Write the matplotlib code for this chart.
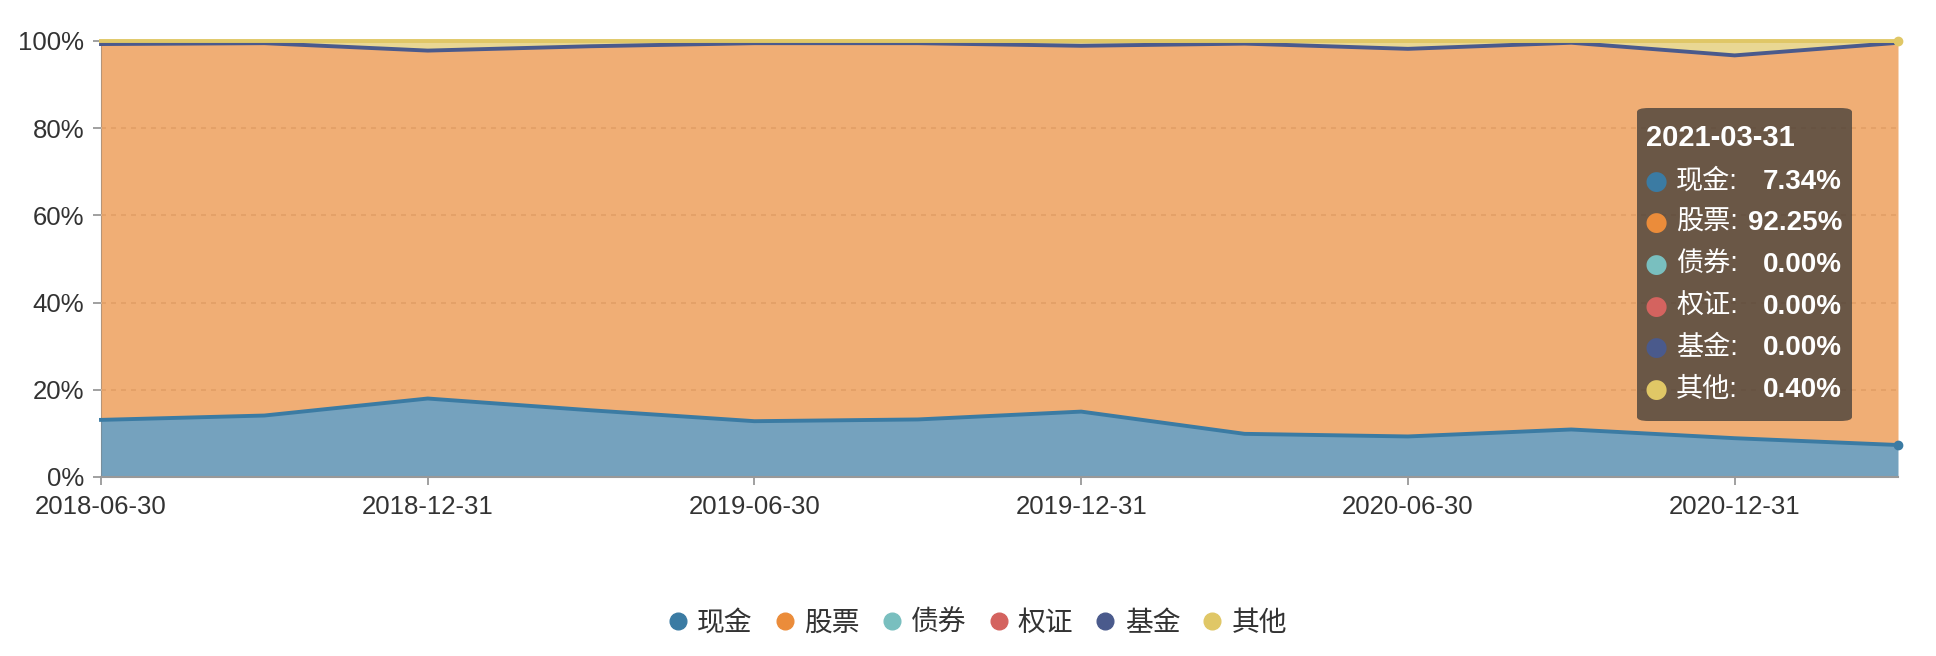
import matplotlib
matplotlib.use("Agg")
import matplotlib.pyplot as plt
from matplotlib.lines import Line2D
from matplotlib.patches import FancyBboxPatch
import numpy as np

plt.rcParams['font.family'] = ['Liberation Sans', 'Noto Sans CJK SC', 'DejaVu Sans']

dates = ['2018-06-30', '2018-09-30', '2018-12-31', '2019-03-31', '2019-06-30', '2019-09-30',
         '2019-12-31', '2020-03-31', '2020-06-30', '2020-09-30', '2020-12-31', '2021-03-31']
names = ['现金', '股票', '债券', '权证', '基金', '其他']
cash = [13.1, 14.1, 18.0, 15.3, 12.8, 13.2, 15.0, 9.9, 9.3, 10.9, 8.9, 7.34]
stock = [86.2, 85.4, 79.8, 83.5, 86.7, 86.3, 83.9, 89.5, 88.9, 88.7, 87.8, 92.25]
bond = [0.0] * 12
warrant = [0.0] * 12
fund = [0.0] * 12
other = [0.7, 0.5, 2.2, 1.2, 0.5, 0.5, 1.1, 0.6, 1.8, 0.4, 3.3, 0.40]
colors = ['#3b7ba3', '#eb8c3a', '#79bfbf', '#d4635f', '#4a5a8c', '#e0c766']

series = [cash, stock, bond, warrant, fund, other]

W, H = 1936, 656
fig = plt.figure(figsize=(W / 100, H / 100), dpi=100)
ax = fig.add_axes([101 / W, 1 - 477 / H, (1898 - 101) / W, (477 - 41) / H])

x = np.arange(len(dates))
base = np.zeros(len(dates))
for i, (vals, c) in enumerate(zip(series, colors)):
    top = base + np.array(vals)
    ax.fill_between(x, base, top, color=c, alpha=0.7, lw=0, zorder=1 + i * 0.1)
    base = top
# lines on top of fills
base = np.zeros(len(dates))
for i, (vals, c) in enumerate(zip(series, colors)):
    top = base + np.array(vals)
    if i in (0, 4, 5):
        ax.plot(x, top, color=c, lw=2.8, zorder=3 + i * 0.1, solid_joinstyle='round',
                clip_on=False)
    base = top

# hover dots at last point
ax.plot(x[-1], cash[-1], 'o', color=colors[0], ms=6, zorder=5, clip_on=False)
ax.plot(x[-1], 100, 'o', color=colors[5], ms=6, zorder=5, clip_on=False)

ax.set_xlim(0, len(dates) - 1)
ax.set_ylim(0, 100)
ax.set_xticks(x[::2])
ax.set_xticklabels(dates[::2])
ax.set_yticks([0, 20, 40, 60, 80, 100])
ax.set_yticklabels(['0%', '20%', '40%', '60%', '80%', '100%'])
ax.tick_params(axis='both', colors='#999999', labelcolor='#333333', labelsize=18.5,
               length=6, width=1.3)
ax.tick_params(axis='x', pad=7)
ax.tick_params(axis='y', pad=6)

ax.set_axisbelow(True)
ax.yaxis.grid(True, color='#cccccc', ls=(0, (3, 3)), lw=1.2, zorder=0)
for s in ['top', 'right']:
    ax.spines[s].set_visible(False)
ax.spines['left'].set_color('#999999')
ax.spines['left'].set_zorder(0.5)
ax.spines['bottom'].set_color('#999999')
ax.spines['bottom'].set_linewidth(1.5)
ax.spines['bottom'].set_zorder(6)

# legend
handles = [Line2D([], [], ls='none', marker='o', ms=12, color=c) for c in colors]
fig.legend(handles, names, loc='center', bbox_to_anchor=(0.505, 1 - 624 / H), ncol=6,
           frameon=False, fontsize=20, handlelength=0.7, handletextpad=0.35,
           columnspacing=0.8, labelcolor='#333333')

# tooltip
def fx(px):
    return px / W

def fy(py):
    return 1 - py / H

box = FancyBboxPatch((fx(1637), fy(421)), fx(1852) - fx(1637), fy(108) - fy(421),
                     boxstyle='round,pad=0,rounding_size=0.006', transform=fig.transFigure,
                     facecolor='#323232', alpha=0.7, edgecolor='none', zorder=10)
fig.patches.append(box)
fig.text(fx(1646), fy(138), dates[-1], color='white', fontsize=21, fontweight='bold',
         va='center', ha='left', zorder=11)
row_y = [182, 223, 265, 307, 348, 390]
for name, vals, c, ry in zip(names, series, colors, row_y):
    fig.text(fx(1656), fy(ry), '●', color=c, fontsize=19, va='center', ha='center',
             family=['DejaVu Sans'], zorder=11)
    fig.text(fx(1676), fy(ry), name + ':', color='white', fontsize=19.5, va='center',
             ha='left', zorder=11)
    fig.text(fx(1842), fy(ry), '%.2f%%' % vals[-1], color='white', fontsize=20,
             fontweight='bold', va='center', ha='right', zorder=12)

fig.savefig('out.png', dpi=100)
